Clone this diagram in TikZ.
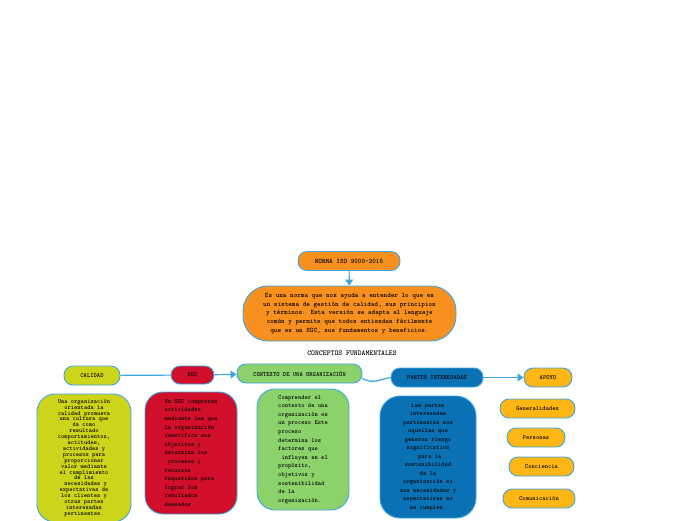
\documentclass[tikz,border=0pt]{standalone}
\usepackage{fontspec}
\usetikzlibrary{arrows.meta}
\definecolor{bordblue}{HTML}{3DA5E0}
\definecolor{orangeA}{HTML}{F7901E}
\definecolor{limeA}{HTML}{CDD51A}
\definecolor{redA}{HTML}{D20F2A}
\definecolor{greenA}{HTML}{8CD26A}
\definecolor{blueA}{HTML}{0A72B4}
\definecolor{goldA}{HTML}{FDB614}
\tikzset{
  base/.style={draw=bordblue, line width=0.9pt, text=black, inner sep=0pt,
    font=\ttfamily\bfseries\fontsize{6.3}{8.6}\selectfont},
  pill/.style={base, rounded corners=9pt, minimum height=19pt},
  card/.style={base, rounded corners=16pt},
  conn/.style={draw=bordblue, line width=1.2pt},
  arr/.style={conn, -{Triangle[length=6pt,width=8pt]}},
}
\begin{document}
\begin{tikzpicture}[x=1pt,y=-1pt]
\useasboundingbox (0,0) rectangle (696,520);
\begin{scope}
\clip (0,0) rectangle (696,520);
\node[pill, fill=orangeA, minimum width=102pt, font=\ttfamily\bfseries\fontsize{6.85}{8}\selectfont] (norma) at (349,261) {NORMA ISO 9000-2015};
\node[card, fill=orangeA, minimum width=213pt, minimum height=55pt, rounded corners=25pt, align=center, font=\ttfamily\bfseries\fontsize{6.85}{8.7}\selectfont] (normad) at (349.5,313.5)
 {Es una norma que nos ayuda a entender lo que es\\un sistema de gestión de calidad, sus principios\\y términos. Esta versión se adapta al lenguaje\\común y permite que todos entiendan fácilmente\\que es un SGC, sus fundamentos y beneficios.};
\node[font=\ttfamily\bfseries\fontsize{7.4}{8}\selectfont, inner sep=0pt] (conc) at (352,353) {CONCEPTOS FUNDAMENTALES};

\node[pill, fill=limeA, minimum width=56pt] (calidad) at (92,375.5) {CALIDAD};
\node[pill, fill=redA, minimum width=43pt, minimum height=18pt] (sgc) at (192.5,375) {SGC};
\node[pill, fill=greenA, minimum width=125pt] (contexto) at (299.5,373.5) {CONTEXTO DE UNA ORGANIZACIÓN};
\node[pill, fill=blueA, minimum width=92pt] (partes) at (437,377.5) {PARTES INTERESADAS};
\node[pill, fill=goldA, minimum width=48pt] (apoyo) at (548,377.5) {APOYO};
\node[pill, fill=goldA, minimum width=75pt] (gen) at (537.5,408.5) {Generalidades};
\node[pill, fill=goldA, minimum width=58pt] (pers) at (536,437.5) {Personas};
\node[pill, fill=goldA, minimum width=65pt] (conci) at (541.5,466.5) {Conciencia};
\node[pill, fill=goldA, minimum width=72pt] (comu) at (539,498.5) {Comunicación};

\node[card, fill=limeA, minimum width=94pt, minimum height=128pt, rounded corners=18pt, align=center, font=\ttfamily\bfseries\fontsize{6.2}{5.9}\selectfont] (calidadd) at (84,458)
 {Una organización\\orientada la\\calidad promueva\\una cultura que\\da como\\resultado\\comportamientos,\\actitudes,\\actividades y\\procesos para\\proporcionar\\valor mediante\\el cumplimiento\\de las\\\ necesidades y\\expectativas de\\los clientes y\\otras partes\\interesadas\\pertinentes.};
\node[card, fill=redA, minimum width=92pt, minimum height=122pt, rounded corners=18pt, align=left] (sgcd) at (191,453)
 {Un SGC comprende\\actividades\\mediante las que\\la organización\\identifica sus\\objetivos y\\determina los\\\ procesos y\\recursos\\requeridos para\\lograr los\\resultados\\deseados.};
\node[card, fill=greenA, minimum width=92pt, minimum height=121pt, rounded corners=18pt, align=left] (contd) at (303,449.5)
 {Comprender el\\contexto de una\\organización es\\un proceso Este\\proceso\\determina los\\factores que\\\ influyen en el\\propósito,\\objetivos y\\sostenibilidad\\de la\\organización.};
\node[card, fill=blueA, minimum width=96pt, minimum height=122pt, rounded corners=20pt, align=center, font=\ttfamily\bfseries\fontsize{6.3}{8.5}\selectfont] (partesd) at (428,457)
 {Las partes\\interesadas\\pertinentes son\\aquellas que\\generan riesgo\\significativo\\\ para la\\sostenibilidad\\de la\\organización si\\sus necesidades y\\expectativas no\\se cumplen.};

\draw[arr] (norma) -- (normad);
\draw[conn] (calidad) -- (sgc);
\draw[arr] (sgc) -- (contexto);
\draw[conn] ([yshift=-5pt]contexto.east) .. controls +(12pt,-6pt) and +(-12pt,-2pt) .. (partes.west);
\draw[arr] (partes) -- (apoyo);
\end{scope}
\end{tikzpicture}
\end{document}
